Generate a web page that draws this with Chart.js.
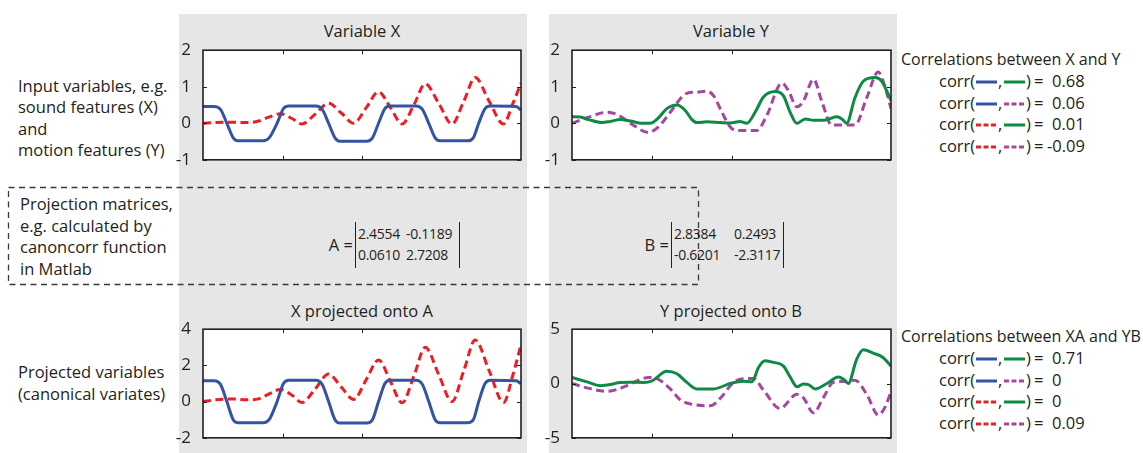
<!DOCTYPE html>
<html>
<head>
<meta charset="utf-8">
<title>Canonical correlation</title>
<script src="https://cdn.jsdelivr.net/npm/chart.js@4/dist/chart.umd.min.js"></script>
<style>
  html, body { margin: 0; padding: 0; background: #fff; }
  body { position: relative; width: 1143px; height: 453px; overflow: hidden;
         font-family: "Open Sans", sans-serif; font-size: 16.5px; color: #231f20; }
  .abs { position: absolute; }
  .col { position: absolute; background: #e6e6e6; top: 14px; height: 439px; width: 348px; }
  .note { position: absolute; white-space: nowrap; line-height: 20px; }
  .head { position: absolute; white-space: nowrap; line-height: 20px; font-size: 16px; }
  .title { position: absolute; white-space: nowrap; text-align: center; width: 320px; line-height: 20px; }
  .num { position: absolute; white-space: nowrap; line-height: 20px; font-size: 14px; letter-spacing: -0.3px; }
  .sw { position: absolute; display: block; }
  canvas { position: absolute; }
</style>
</head>
<body>

<div class="col" style="left:179px"></div>
<div class="col" style="left:549px"></div>

<svg class="abs" style="left:0;top:0" width="1143" height="453">
  <rect x="8.5" y="187.5" width="690" height="97" fill="none" stroke="#3a3a3a" stroke-width="1.3" stroke-dasharray="6 4.5"/>
</svg>

<div class="note" style="left:18px;top:75px;line-height:21.3px">Input variables, e.g.<br>sound features (X)<br>and<br>motion features (Y)</div>
<div class="note" style="left:20px;top:193px;line-height:21.7px">Projection matrices,<br>e.g. calculated by<br>canoncorr function<br>in Matlab</div>
<div class="note" style="left:18px;top:361px;line-height:22px">Projected variables<br>(canonical variates)</div>

<div class="title" style="left:202px;top:21px">Variable X</div>
<div class="title" style="left:571px;top:21px">Variable Y</div>
<div class="title" style="left:202px;top:301px">X projected onto A</div>
<div class="title" style="left:571px;top:301px">Y projected onto B</div>

<div id="matA"></div>
<div id="matB"></div>
<div id="legTop"></div>
<div id="legBottom"></div>

<canvas id="cX" width="356" height="138" style="left:173px;top:36px"></canvas>
<canvas id="cY" width="357" height="138" style="left:542px;top:36px"></canvas>
<canvas id="cXA" width="356" height="137" style="left:173px;top:315px"></canvas>
<canvas id="cYB" width="357" height="137" style="left:542px;top:315px"></canvas>

<script>
// time axis runs 0..100 in every panel
const tickX = [25, 50];

// Variable X, first column (square-ish wave)
const xSquare = [0, 3.4, 5.5, 7.5, 9.5, 11, 19, 20.8, 23.3, 25.3, 27, 35.5, 37.5, 39.5, 41.5, 43, 51.5, 53.3, 55.2, 57.2, 58.8, 67, 69, 71, 73, 74.5, 83.2, 85, 86.7, 88.7, 90.3, 98.5, 100];
const blueX = [0.46, 0.46, 0.38, 0, -0.4, -0.48, -0.48, -0.4, 0, 0.4, 0.47, 0.47, 0.38, 0, -0.4, -0.49, -0.49, -0.4, 0, 0.4, 0.47, 0.47, 0.38, 0, -0.4, -0.48, -0.48, -0.4, 0, 0.4, 0.47, 0.46, 0.36];
const blueXA = [1.15, 1.15, 0.95, 0, -1.0, -1.17, -1.17, -1.0, 0, 1.0, 1.18, 1.18, 0.95, 0, -1.0, -1.18, -1.18, -1.0, 0, 1.0, 1.18, 1.18, 0.95, 0, -1.0, -1.17, -1.17, -1.0, 0, 1.0, 1.18, 1.15, 0.98];

// Variable X, second column (growing oscillation)
const xWave = [0, 4, 9, 14, 17.5, 20.5, 24.3, 28, 31.1, 35.3, 39.5, 43.5, 47.4, 51.3, 55.2, 59, 62.6, 66.3, 69.9, 74.1, 78.3, 82, 85.6, 90, 94.5, 97.5, 100];
const redX = [0, 0.02, 0.03, 0.02, 0.06, 0.16, 0.26, 0.13, -0.02, 0.25, 0.55, 0.28, 0, 0.42, 0.86, 0.42, -0.02, 0.5, 1.08, 0.55, -0.02, 0.6, 1.25, 0.6, -0.02, 0.55, 1.1];
const redXA = [0, 0.1, 0.15, 0.1, 0.15, 0.4, 0.67, 0.35, -0.05, 0.7, 1.52, 0.8, 0.12, 1.2, 2.3, 1.1, -0.07, 1.4, 3.0, 1.5, 0.0, 1.7, 3.4, 1.7, -0.05, 1.5, 3.15];

// Variable Y
const xGreenY = [0, 2.6, 5.2, 9.4, 12, 15.1, 18.3, 21.9, 24.5, 27.1, 29.7, 32.9, 35.5, 37.6, 39.1, 42.3, 46.5, 49.6, 52.7, 54.8, 57.4, 60, 63.7, 66.3, 68.4, 70.5, 73.1, 75.7, 78.8, 83, 84.6, 86.1, 88.7, 91.3, 95, 97.1, 98.6, 100];
const greenY = [0.18, 0.17, 0.1, 0.02, 0.05, 0.1, 0.06, 0.0, 0.0, 0.15, 0.4, 0.5, 0.35, 0.1, 0.02, 0.04, 0.02, 0.01, 0.05, 0.0, 0.3, 0.72, 0.87, 0.75, 0.3, 0.0, 0.12, 0.08, 0.08, 0.18, 0.12, 0.0, 0.7, 1.15, 1.25, 1.15, 0.9, 0.62];
const xPurpleY = [0, 4.7, 11, 14.6, 18.3, 24, 27.1, 30.8, 36, 39.1, 42.3, 44.4, 47, 49.6, 51.7, 57.9, 61, 65.8, 67.8, 70.5, 72.5, 75.7, 78.3, 81.4, 88.7, 92.4, 96, 98.1, 100];
const purpleY = [0.0, 0.15, 0.3, 0.22, 0.0, -0.25, -0.1, 0.3, 0.82, 0.85, 0.88, 0.75, 0.3, -0.1, -0.2, -0.2, 0.2, 1.1, 0.9, 0.45, 0.6, 1.2, 0.6, -0.05, -0.05, 0.7, 1.4, 1.0, 0.4];

// Y projected onto B
const xGreenYB = [0, 4.7, 8.9, 12, 15.1, 18.3, 22.4, 25.1, 29.7, 32.9, 36, 39.1, 44.4, 49.6, 53.8, 56.4, 58.5, 60.5, 63.2, 66.3, 68.4, 70.5, 72.5, 74.1, 76.2, 79.9, 83.5, 85.1, 86.6, 89.2, 91.3, 94.4, 97.5, 100];
const greenYB = [0.55, 0.15, -0.2, -0.1, 0.1, 0.12, 0.1, 0.25, 1.13, 0.9, 0.1, -0.5, -0.5, 0.0, 0.2, 0.15, 1.5, 2.1, 1.95, 1.6, 0.6, -0.3, -0.05, -0.1, -0.5, 0.0, 0.6, 0.4, 0.0, 2.2, 3.1, 2.8, 2.4, 1.6];
const xPurpleYB = [0, 4.7, 11, 14.1, 17.2, 20.9, 24, 26.6, 30.8, 33.9, 36, 43.3, 47, 49.6, 51.7, 54.3, 56.9, 60, 65.2, 70.5, 72.5, 75.7, 78.8, 81.9, 86.1, 88.7, 92.4, 96, 98.1, 100];
const purpleYB = [0.0, -0.4, -0.72, -0.55, -0.2, 0.3, 0.55, 0.45, -0.5, -1.5, -1.8, -2.05, -1.2, -0.2, 0.3, 0.45, 0.45, -0.6, -2.3, -1.0, -1.3, -2.7, -1.3, 0.1, 0.2, 0.3, -1.0, -2.9, -2.2, -0.75];

// projection matrices
const matA = [[2.4554, -0.1189], [0.0610, 2.7208]];
const matB = [[2.8384, 0.2493], [-0.6201, -2.3117]];

// correlation tables
const corrPairs = [['blue', 'green'], ['blue', 'purple'], ['red', 'green'], ['red', 'purple']];
const corrXY = [0.68, 0.06, 0.01, -0.09];
const corrXAYB = [0.71, 0, 0, 0.09];

const ink = '#231f20';
const colors = { blue: '#3453a4', red: '#ee1c25', green: '#0e8a45', purple: '#a9449f' };
const dashed = { blue: false, red: true, green: false, purple: true };

Chart.defaults.font.family = '"Open Sans", sans-serif';
Chart.defaults.color = ink;

const pts = (xs, ys) => xs.map((x, i) => ({ x, y: ys[i] }));

function series(name, xs, ys) {
  return {
    data: pts(xs, ys),
    borderColor: colors[name],
    borderWidth: 3,
    borderDash: dashed[name] ? [8, 4.5] : [],
    borderCapStyle: 'butt',
    borderJoinStyle: 'round',
    cubicInterpolationMode: 'monotone',
    pointRadius: 0,
    fill: false
  };
}

// white axes box with inward ticks on all four sides
const axesBox = {
  id: 'axesBox',
  beforeDatasetsDraw(chart) {
    const { ctx, chartArea: a } = chart;
    ctx.save();
    ctx.fillStyle = '#fff';
    ctx.fillRect(a.left, a.top, a.width, a.height);
    ctx.restore();
  },
  afterDraw(chart) {
    const { ctx, chartArea: a, scales } = chart;
    ctx.save();
    ctx.strokeStyle = ink;
    ctx.lineWidth = 1;
    ctx.beginPath();
    tickX.forEach(v => {
      const px = Math.round(scales.x.getPixelForValue(v)) + 0.5;
      ctx.moveTo(px, a.top); ctx.lineTo(px, a.top + 4);
      ctx.moveTo(px, a.bottom); ctx.lineTo(px, a.bottom - 4);
    });
    scales.y.ticks.forEach(t => {
      const py = Math.round(scales.y.getPixelForValue(t.value)) + 0.5;
      ctx.moveTo(a.left, py); ctx.lineTo(a.left + 4, py);
      ctx.moveTo(a.right, py); ctx.lineTo(a.right - 4, py);
    });
    ctx.stroke();
    ctx.lineWidth = 1.6;
    ctx.strokeRect(a.left, a.top, a.width, a.height);
    ctx.restore();
  }
};

function panel(id, datasets, yMin, yMax, step) {
  new Chart(document.getElementById(id), {
    type: 'line',
    data: { datasets },
    options: {
      responsive: false,
      animation: false,
      layout: { padding: { left: 0, top: 12, right: 8, bottom: 12 } },
      plugins: { legend: { display: false }, tooltip: { enabled: false } },
      scales: {
        x: { type: 'linear', min: 0, max: 100, display: false },
        y: {
          min: yMin, max: yMax,
          afterFit(s) { s.width = 30; },
          grid: { display: false },
          border: { display: false },
          ticks: { stepSize: step, padding: 4, color: ink, font: { size: 17 } }
        }
      }
    },
    plugins: [axesBox]
  });
}

panel('cX', [series('blue', xSquare, blueX), series('red', xWave, redX)], -1, 2, 1);
panel('cY', [series('green', xGreenY, greenY), series('purple', xPurpleY, purpleY)], -1, 2, 1);
panel('cXA', [series('blue', xSquare, blueXA), series('red', xWave, redXA)], -2, 4, 2);
panel('cYB', [series('green', xGreenYB, greenYB), series('purple', xPurpleYB, purpleYB)], -5, 5, 5);

// matrices drawn as text between two bars
function matrix(el, label, m, x, labelRight, width, col2) {
  el.innerHTML =
    `<div class="note" style="left:${labelRight - 40}px;top:235px;width:40px;text-align:right">${label} =</div>` +
    `<div class="abs" style="left:${x}px;top:222px;width:${width}px;height:46px;border-left:1.5px solid ${ink};border-right:1.5px solid ${ink}"></div>` +
    m.map((r, i) => r.map((v, j) =>
      `<div class="num" style="left:${j ? col2 : x + 3}px;top:${224 + i * 21}px">${v.toFixed(4)}</div>`
    ).join('')).join('');
}
matrix(document.getElementById('matA'), 'A', matA, 355, 353, 103, 406);
matrix(document.getElementById('matB'), 'B', matB, 671, 669, 111, 734);

// correlation tables
function swatch(name, x, y) {
  const dash = dashed[name] ? 'stroke-dasharray="5 2.5"' : '';
  return `<svg class="sw" style="left:${x}px;top:${y - 3}px" width="21" height="6"><line x1="0" y1="3" x2="21" y2="3" stroke="${colors[name]}" stroke-width="3" ${dash}/></svg>`;
}
function table(el, title, top, vals) {
  let html = `<div class="head" style="left:901px;top:${top - 10}px">${title}</div>`;
  vals.forEach((v, i) => {
    const cy = Math.round(top + 22 + i * 21.7);
    const [a, b] = corrPairs[i];
    html += `<div class="note" style="left:939px;top:${cy - 10}px">corr(</div>`;
    html += swatch(a, 976, cy + 1);
    html += `<div class="note" style="left:998px;top:${cy - 10}px">,</div>`;
    html += swatch(b, 1004, cy + 1);
    html += `<div class="note" style="left:1026px;top:${cy - 10}px">)</div>`;
    html += `<div class="note" style="left:1034px;top:${cy - 10}px">=</div>`;
    html += `<div class="note" style="left:${v < 0 ? 1047 : 1052}px;top:${cy - 10}px">${v}</div>`;
  });
  el.innerHTML = html;
}
table(document.getElementById('legTop'), 'Correlations between X and Y', 59, corrXY);
table(document.getElementById('legBottom'), 'Correlations between XA and YB', 336, corrXAYB);
</script>
</body>
</html>
